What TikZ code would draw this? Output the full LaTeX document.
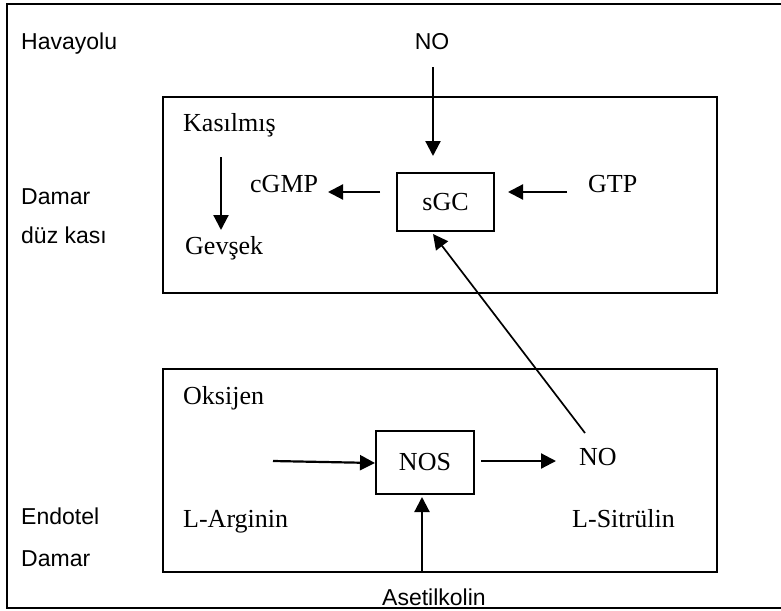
\documentclass[tikz,border=0pt]{standalone}
\usepackage{fontspec}
\setmainfont{Liberation Serif}
\newfontfamily\arialf{Liberation Sans}
\usetikzlibrary{arrows.meta}
\begin{document}
\begin{tikzpicture}[x=1pt,y=-1pt,
  sanslbl/.style={font=\arialf\fontsize{23}{26}\selectfont, inner sep=0pt, anchor=base west},
  seriflbl/.style={font=\fontsize{26}{30}\selectfont, inner sep=0pt, anchor=base west},
  panel/.style={draw, line width=1.8pt},
  enzbox/.style={draw, line width=1.6pt, font=\fontsize{26}{30}\selectfont, inner sep=0pt},
  arr/.style={-{Triangle[length=15pt,width=15pt]}, line width=2.2pt},
  thinarr/.style={-{Triangle[length=15pt,width=15pt]}, line width=1.7pt}]
\useasboundingbox (0,0) rectangle (781,610);
\begin{scope}
\clip (0,0) rectangle (781,610);
\draw[line width=2.4pt] (790,4) -- (7,4) -- (7,608) -- (790,608);
\end{scope}
% panels
\draw[panel] (163,97) rectangle (717,293);
\draw[panel] (163,369) rectangle (717,572);
% left labels
\node[sanslbl] (hava) at (21,50) {Havayolu};
\node[sanslbl] (damar1) at (21,204) {Damar};
\node[sanslbl] (duz) at (21,243) {düz kası};
\node[sanslbl] (endo) at (21,524) {Endotel};
\node[sanslbl] (damar2) at (21,566) {Damar};
% upper panel
\node[sanslbl, anchor=base] (notop) at (432,50) {NO};
\node[enzbox, minimum width=97pt, minimum height=58pt] (sgc) at (445.5,202) {sGC};
\node[seriflbl] (kas) at (183,131) {Kasılmış};
\node[seriflbl] (gev) at (185,254) {Gevşek};
\node[seriflbl] (cgmp) at (250,192) {cGMP};
\node[seriflbl] (gtp) at (588,192) {GTP};
\coordinate (kasA) at (221,157);
\coordinate (kasB) at (221,230);
\coordinate (notopA) at (433,67);
\coordinate (notopB) at (433,156);
\coordinate (sgcL) at (380,192);
\coordinate (cgmpR) at (328,192);
\coordinate (gtpL) at (567,192);
\coordinate (sgcR) at (508,192);
\draw[arr] (kasA) -- (kasB);
\draw[arr] (notopA) -- (notopB);
\draw[arr] (sgcL) -- (cgmpR);
\draw[arr] (gtpL) -- (sgcR);
% lower panel
\node[enzbox, minimum width=98pt, minimum height=63pt] (nos) at (425,462.5) {NOS};
\node[seriflbl] (oks) at (183,404) {Oksijen};
\node[seriflbl] (larg) at (183,527) {L-Arginin};
\node[seriflbl] (nolow) at (579,465) {NO};
\node[seriflbl] (lsit) at (572,527) {L-Sitrülin};
\node[sanslbl] (aset) at (382,605) {Asetilkolin};
\coordinate (argA) at (273,461);
\coordinate (nosL) at (375,463);
\coordinate (nosR) at (481,461);
\coordinate (noA) at (556,461);
\coordinate (asetA) at (422,572);
\coordinate (nosB) at (422,497);
\coordinate (noUp) at (585,433);
\coordinate (sgcB) at (433,234);
\draw[arr] (argA) -- (nosL);
\draw[arr] (nosR) -- (noA);
\draw[arr] (asetA) -- (nosB);
\draw[thinarr] (noUp) -- (sgcB);
\end{tikzpicture}
\end{document}
